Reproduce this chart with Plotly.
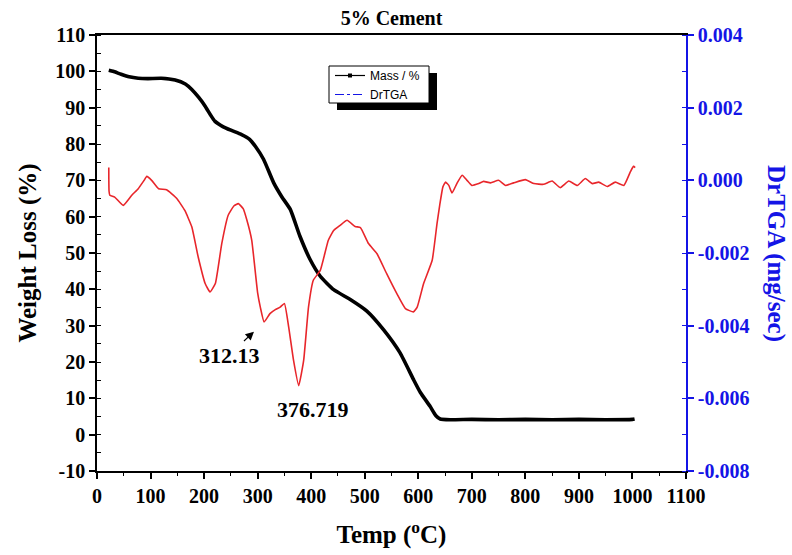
import plotly.graph_objects as go

# Thermogravimetric data: mass (%) and derivative (mg/sec) vs temperature (°C)
mass_temp = [22, 30, 45, 60, 77, 95, 120, 146, 165, 177, 190, 202, 212, 220, 235, 250,
             270, 285, 296, 311, 330, 345, 361, 379, 398, 417, 442, 473, 504, 535, 566,
             591, 604, 622, 633, 641, 660, 700, 750, 800, 850, 900, 950, 1000, 1004]
mass_pct = [100.3, 100.0, 99.2, 98.5, 98.1, 98.0, 98.1, 97.6, 96.5, 95.0, 92.8, 90.4,
            88.0, 86.3, 84.8, 83.8, 82.6, 81.3, 79.3, 75.8, 69.3, 65.5, 62.0, 54.6, 48.2,
            43.6, 39.9, 37.2, 34.0, 28.9, 22.5, 15.2, 11.6, 7.8, 5.2, 4.3, 4.1, 4.2, 4.1,
            4.2, 4.1, 4.2, 4.1, 4.2, 4.3]

dtg_temp = [22, 22.5, 24, 33, 49, 65, 77, 88, 93, 102, 115, 130, 149, 164, 177, 189,
            202, 211, 221, 233, 245, 256, 264, 273, 280, 289, 292, 300, 305, 312.13, 323,
            333, 342, 350, 358, 367, 376.719, 386, 395, 404, 417, 432, 442, 454, 467, 482,
            492, 507, 523, 541, 560, 576, 591, 598, 610, 626, 635, 640, 646, 651, 657, 663,
            672, 682, 691, 700, 713, 722, 735, 750, 763, 778, 800, 816, 834, 850, 865, 881,
            897, 912, 925, 937, 953, 968, 984, 996, 1002, 1005]
dtg_val = [0.00035, -0.00030, -0.00041, -0.00046, -0.00069, -0.00041, -0.00023, 0.00000,
           0.00011, 0.00000, -0.00023, -0.00026, -0.00050, -0.00083, -0.00128, -0.00211,
           -0.00284, -0.00307, -0.00284, -0.00174, -0.00096, -0.00070, -0.00064, -0.00078,
           -0.00110, -0.00165, -0.00202, -0.00310, -0.00349, -0.00390, -0.00367, -0.00356,
           -0.00349, -0.00339, -0.00404, -0.00495, -0.00565, -0.00495, -0.00349, -0.00275,
           -0.00248, -0.00165, -0.00138, -0.00124, -0.00110, -0.00127, -0.00130, -0.00174,
           -0.00202, -0.00257, -0.00312, -0.00353, -0.00362, -0.00349, -0.00284, -0.00220,
           -0.00119, -0.00069, -0.00018, -0.00005, -0.00014, -0.00035, -0.00009, 0.00014,
           0.00000, -0.00014, -0.00009, -0.00003, -0.00007, 0.00000, -0.00014, -0.00007,
           0.00002, -0.00009, -0.00011, -0.00002, -0.00020, -0.00002, -0.00014, 0.00005,
           -0.00009, -0.00005, -0.00017, -0.00005, -0.00014, 0.00023, 0.00039, 0.00035]

peak_temps = [312.13, 376.719]
peak_vals = [-0.00390, -0.00565]
peak_labels = ["312.13", "376.719"]

x_ticks = list(range(0, 1101, 100))
x_ticktext = [str(v) for v in x_ticks]
y_ticks = list(range(-10, 111, 10))
y_ticktext = [str(v) for v in y_ticks]
y2_ticks = [-0.008, -0.006, -0.004, -0.002, 0.000, 0.002, 0.004]
y2_ticktext = ["-0.008", "-0.006", "-0.004", "-0.002", "0.000", "0.002", "0.004"]

SERIF = "Liberation Serif"
SANS = "Liberation Sans"
BLUE = "#1414e6"
RED = "#e8262b"

# plot-area geometry in pixels (used to place paper-referenced items)
L, R, T, B = 97, 686, 35, 471
PW, PH = R - L, B - T


def px_x(px):
    return (px - L) / PW


def px_y(py):
    return (B - py) / PH


fig = go.Figure()

fig.add_trace(go.Scatter(
    x=mass_temp, y=mass_pct, mode="lines", showlegend=False,
    line=dict(color="black", width=3.6, shape="spline", smoothing=0.5),
))
fig.add_trace(go.Scatter(
    x=dtg_temp, y=dtg_val, mode="lines", yaxis="y2", showlegend=False,
    line=dict(color=RED, width=1.6, shape="spline", smoothing=0.4),
))

# legend entries
fig.add_trace(go.Scatter(
    x=[None], y=[None], mode="lines+markers", name="Mass / %",
    line=dict(color="black", width=1.2),
    marker=dict(color="black", symbol="square", size=4),
))
fig.add_trace(go.Scatter(
    x=[None], y=[None], mode="lines", name="DrTGA", yaxis="y2",
    line=dict(color=BLUE, width=1.2, dash="dashdot"),
))

tick_font = dict(family=SERIF, size=20, color="black", weight="bold")
title_font = dict(family=SERIF, size=25, color="black", weight="bold")

fig.update_layout(
    width=792, height=555,
    margin=dict(l=L, r=792 - R, t=T, b=555 - B),
    paper_bgcolor="white", plot_bgcolor="white",
    title=dict(text="5% Cement", x=0.5, xref="paper", xanchor="center",
               y=1 - 18 / 555, yref="container", yanchor="middle",
               font=dict(family=SERIF, size=20, color="black", weight="bold")),
    xaxis=dict(
        range=[0, 1100], tickvals=x_ticks, ticktext=x_ticktext,
        showline=True, linecolor="black", linewidth=1.5, mirror=True,
        ticks="outside", ticklen=6, tickwidth=1.5, tickcolor="black",
        minor=dict(dtick=50, tick0=0, ticks="outside", ticklen=3, tickwidth=1.2,
                   tickcolor="black", showgrid=False),
        showgrid=False, zeroline=False, tickfont=tick_font,
        title=dict(text="Temp (<sup>o</sup>C)", standoff=20, font=title_font),
    ),
    yaxis=dict(
        range=[-10, 110], tickvals=y_ticks, ticktext=y_ticktext,
        showline=True, linecolor="black", linewidth=1.5,
        ticks="outside", ticklen=6, tickwidth=1.5, tickcolor="black",
        minor=dict(dtick=5, tick0=0, ticks="inside", ticklen=4, tickwidth=1.2,
                   tickcolor="black", showgrid=False),
        showgrid=False, zeroline=False, tickfont=tick_font,
        title=dict(text="Weight Loss (%)", standoff=12, font=title_font),
    ),
    yaxis2=dict(
        range=[-0.008, 0.004], overlaying="y", side="right",
        tickvals=y2_ticks, ticktext=y2_ticktext,
        showline=True, linecolor=BLUE, linewidth=1.5,
        ticks="outside", ticklen=6, tickwidth=1.5, tickcolor=BLUE,
        minor=dict(dtick=0.001, tick0=0, ticks="inside", ticklen=4, tickwidth=1.2,
                   tickcolor=BLUE, showgrid=False),
        showgrid=False, zeroline=False,
        tickfont=dict(family=SERIF, size=20, color=BLUE, weight="bold"),
    ),
    legend=dict(
        x=px_x(330), y=px_y(61), xanchor="left", yanchor="top",
        bgcolor="rgba(0,0,0,0)", borderwidth=0,
        font=dict(family=SANS, size=12, color="black"),
        tracegroupgap=0, itemwidth=30,
    ),
)

# legend frame with a drop shadow
fig.add_shape(type="rect", xref="paper", yref="paper",
              x0=px_x(337), x1=px_x(437), y0=px_y(110), y1=px_y(73),
              fillcolor="black", line=dict(width=0), layer="above")
fig.add_shape(type="rect", xref="paper", yref="paper",
              x0=px_x(329), x1=px_x(429), y0=px_y(103), y1=px_y(66),
              fillcolor="white", line=dict(color="black", width=1), layer="above")

# right-hand axis title, reading top to bottom
fig.add_annotation(text="DrTGA (mg/sec)", xref="paper", yref="paper",
                   x=px_x(776), y=0.5, xanchor="center", yanchor="middle",
                   showarrow=False, textangle=90,
                   font=dict(family=SERIF, size=25, color=BLUE, weight="bold"))

# peak labels
fig.add_annotation(x=peak_temps[0], y=peak_vals[0], yref="y2", text=peak_labels[0],
                   showarrow=True, ax=-35, ay=33, arrowhead=2, arrowsize=1.4,
                   arrowwidth=1.2, arrowcolor="black", standoff=14,
                   font=dict(family=SERIF, size=22, color="black", weight="bold"))
fig.add_annotation(x=peak_temps[1], y=peak_vals[1], yref="y2", text=peak_labels[1],
                   showarrow=False, xshift=14, yshift=-24,
                   font=dict(family=SERIF, size=22, color="black", weight="bold"))

fig.write_html("out.html")
